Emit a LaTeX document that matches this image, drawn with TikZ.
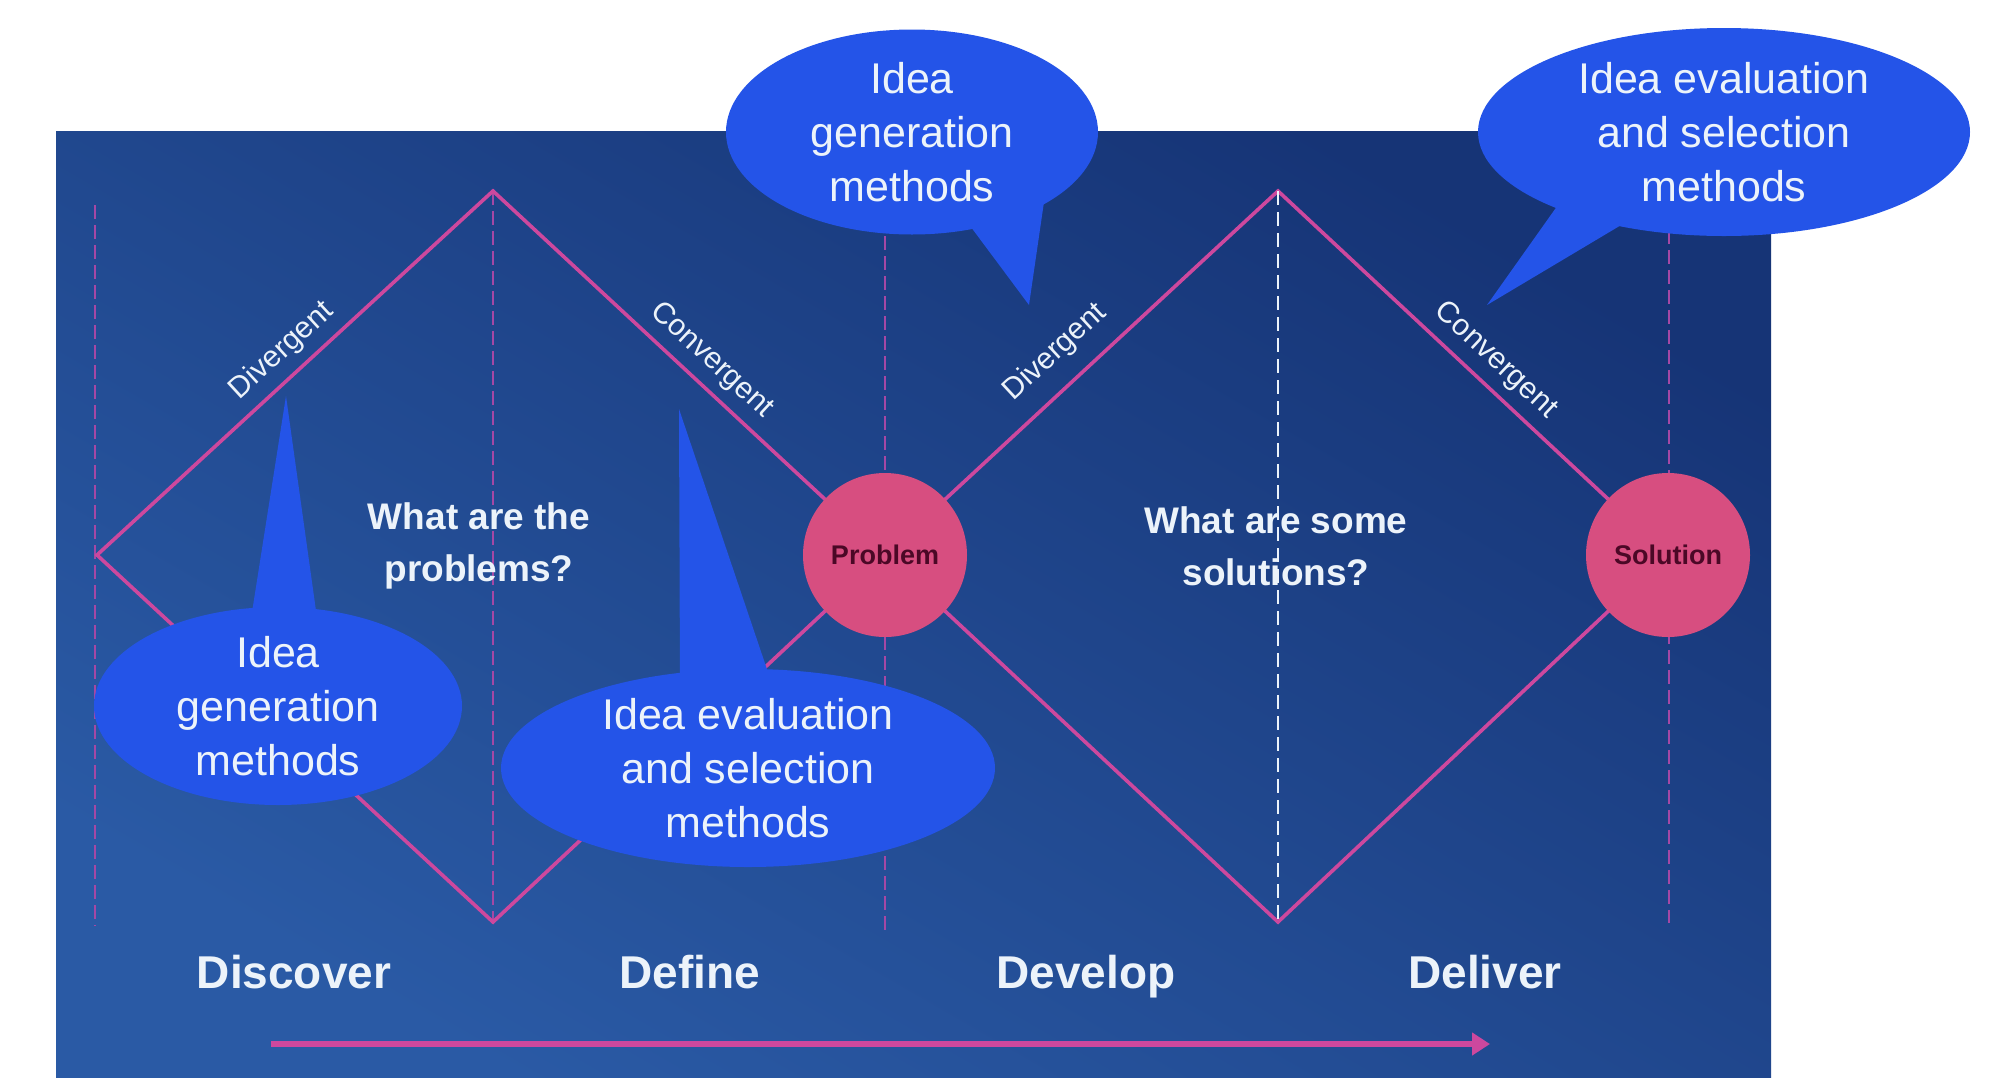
\documentclass[tikz,border=0pt]{standalone}
\usepackage{fontspec}
\setmainfont{Liberation Sans}
\usetikzlibrary{shapes.geometric,arrows.meta}

\definecolor{bgtop}{RGB}{22,52,118}
\definecolor{bgbot}{RGB}{42,90,165}
\definecolor{pinkline}{RGB}{205,72,158}
\definecolor{circfill}{RGB}{215,78,128}
\definecolor{circtext}{RGB}{75,8,38}
\definecolor{bubble}{RGB}{36,84,232}
\definecolor{dashpink}{RGB}{165,72,165}
\definecolor{txtwhite}{RGB}{236,243,250}

\begin{document}
\begin{tikzpicture}[x=0.5pt,y=-0.5pt,
  pinkl/.style={draw=pinkline, line width=1.8pt, line join=miter},
  dashv/.style={draw=dashpink, line width=0.7pt, dash pattern=on 7pt off 3pt},
  dashw/.style={draw=txtwhite, line width=1pt, dash pattern=on 7pt off 3.5pt},
  bubblebg/.style={ellipse, fill=bubble, inner sep=0pt},
  bubbletxt/.style={text=txtwhite, align=center, font=\fontsize{21.5}{27}\selectfont, inner sep=0pt},
  question/.style={text=txtwhite, align=center, font=\bfseries\fontsize{18.5}{26}\selectfont},
  phase/.style={text=txtwhite, anchor=base, font=\bfseries\fontsize{23}{28}\selectfont},
  edgelabel/.style={text=txtwhite, font=\fontsize{15}{18}\selectfont, sloped, above=2pt},
  stage/.style={circle, fill=circfill, minimum size=82pt, inner sep=0pt, text=circtext, font=\bfseries\fontsize{13.5}{16}\selectfont}
]
\fill[white] (0,0) rectangle (2014,1088);
\useasboundingbox (0,0) rectangle (2014,1088);

% background panel
\shade[top color=bgtop, bottom color=bgbot, shading angle=-30] (56,131) rectangle (1771,1077);

% coordinates
\coordinate (d1l) at (97,555);
\coordinate (d1t) at (493,191);
\coordinate (d1b) at (493,922);
\coordinate (pc) at (885,555);
\coordinate (d2t) at (1278,191);
\coordinate (d2b) at (1278,922);
\coordinate (sc) at (1668,555);

\coordinate (v1t) at (95,205);   \coordinate (v1b) at (95,926);
\coordinate (v2t) at (493,191);  \coordinate (v2b) at (493,922);
\coordinate (v3t) at (885,236);  \coordinate (v3b) at (885,930);
\coordinate (v4t) at (1669,230); \coordinate (v4b) at (1669,923);

% dashed verticals
\draw[dashv] (v1t) -- (v1b);
\draw[dashv] (v2t) -- (v2b);
\draw[dashv] (v3t) -- (v3b);
\draw[dashv] (v4t) -- (v4b);

% diamonds
\draw[pinkl] (d1l) -- (d1t) -- (pc) -- (d1b) -- cycle;
\draw[pinkl] (pc) -- (d2t) -- (sc) -- (d2b) -- cycle;

% edge labels
\path (d1l) -- (d1t) node[edgelabel, pos=0.51] (lab1) {Divergent};
\path (d1t) -- (pc) node[edgelabel, pos=0.515] (lab2) {Convergent};
\path (pc) -- (d2t) node[edgelabel, pos=0.49, above=4pt] (lab3) {Divergent};
\path (d2t) -- (sc) node[edgelabel, pos=0.515] (lab4) {Convergent};

% questions
\node[question] (q1) at (479,546) {What are the\\problems?};
\node[question] (q2) at (1276,546) {What are some\\solutions?};
\draw[dashw] (d2t) -- (d2b);

% stage circles
\node[stage] (prob) at (pc) {Problem};
\node[stage] (sol) at (sc) {Solution};

% phases
\node[phase] (ph1) at (294,988) {Discover};
\node[phase] (ph2) at (690,988) {Define};
\node[phase] (ph3) at (1086,988) {Develop};
\node[phase] (ph4) at (1485,988) {Deliver};

% arrow
\coordinate (as) at (271,1044);
\coordinate (ae) at (1490,1044);
\draw[draw=pinkline, line width=2.6pt, -{Triangle[length=9pt,width=11pt]}] (as) -- (ae);

% bubble 1 (bottom left)
\fill[bubble] (250,625) -- (286,396) -- (318,625) -- cycle;
\node[bubblebg, minimum width=184pt, minimum height=99pt] (b1) at (278,706) {};
\node[bubbletxt] (t1) at (b1) {Idea\\generation\\methods};

% bubble 2 (bottom middle)
\fill[bubble] (680,690) -- (679,409) -- (774,690) -- cycle;
\node[bubblebg, minimum width=247pt, minimum height=99pt] (b2) at (748,768) {};
\node[bubbletxt] (t2) at (b2) {Idea evaluation\\and selection\\methods};

% bubble 3 (top middle)
\fill[bubble] (962,215) -- (1029,305) -- (1045,195) -- cycle;
\node[bubblebg, minimum width=186pt, minimum height=102.5pt] (b3) at (912,132) {};
\node[bubbletxt] (t3) at (b3) {Idea\\generation\\methods};

% bubble 4 (top right)
\fill[bubble] (1565,195) -- (1487,305) -- (1638,215) -- cycle;
\node[bubblebg, minimum width=246pt, minimum height=104pt] (b4) at (1724,132) {};
\node[bubbletxt] (t4) at (b4) {Idea evaluation\\and selection\\methods};
\end{tikzpicture}
\end{document}
